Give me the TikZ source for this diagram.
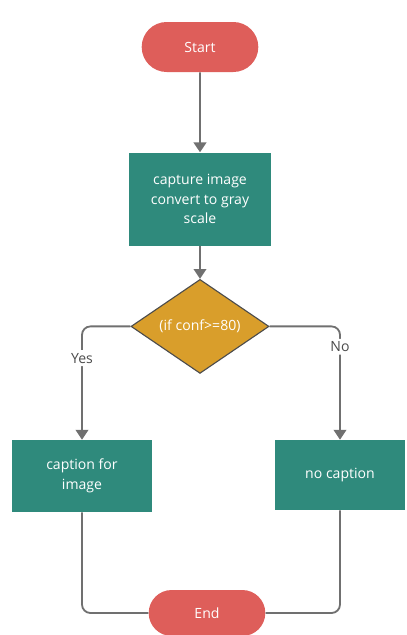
\documentclass[tikz,border=0pt]{standalone}
\usepackage{fontspec}
\setmainfont{Open Sans}
\usepackage{xcolor}
\usetikzlibrary{shapes.misc, shapes.geometric, arrows.meta, positioning}

\definecolor{termred}{HTML}{DE5E5A}
\definecolor{procteal}{HTML}{2F8A7C}
\definecolor{decgold}{HTML}{D99E2B}
\definecolor{flowgray}{HTML}{707070}

\begin{document}
\begin{tikzpicture}[
font=\fontsize{10}{14}\selectfont,
term_node/.style={rounded rectangle, fill=termred, text=white, minimum width=3.15cm, minimum height=1.25cm},
proc_node/.style={rectangle, fill=procteal, text=white, align=center, minimum width=3.5cm, minimum height=1.8cm},
dec_node/.style={diamond, draw=black!70, line width=0.8pt, fill=decgold, text=white, minimum width=3.45cm, minimum height=2.25cm, inner sep=0pt},
flow/.style={draw=flowgray, line width=1.3pt, -{Triangle[width=9pt,length=7pt]}},
merge_line/.style={draw=flowgray, line width=1.3pt, rounded corners=6pt},
lbl/.style={fill=white, text=black!70, inner sep=2pt}
]
\useasboundingbox (0,0) rectangle (10.15,-15.875);

% Start
\node[term_node] (start) at (5.0,-1.175) {Start};

% Capture
\node[proc_node, minimum width=3.55cm, minimum height=2.325cm] (capture) [below=2cm of start] {capture image\\convert to gray\\scale};

% Decision
\node[dec_node] (conf) [below=0.825cm of capture] {(if conf>=80)};

% Branches
\node[proc_node] (caption) at (2.05,-11.9) {caption for\\image};
\node[proc_node, minimum width=3.25cm, minimum height=1.75cm] (nocaption) at (8.5,-11.875) {no caption};

% End
\node[term_node, minimum height=1.15cm] (end) at (5.175,-15.325) {End};

% Edges
\draw[flow] (start) -- (capture);
\draw[flow] (capture) -- (conf);
\draw[flow, rounded corners=6pt] (conf.west) -| node[pos=0.64, lbl] {Yes} (caption.north);
\draw[flow, rounded corners=6pt] (conf.east) -| node[pos=0.59, lbl] {No} (nocaption.north);
\draw[merge_line] (caption.south) |- (end.west);
\draw[merge_line] (nocaption.south) |- (end.east);
\end{tikzpicture}
\end{document}
